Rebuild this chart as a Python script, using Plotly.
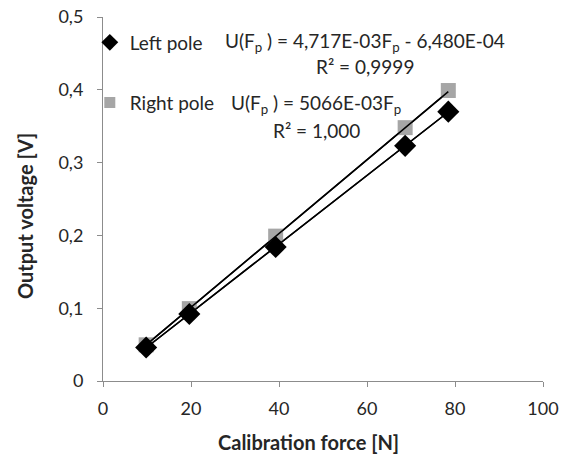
import plotly.graph_objects as go

force = [9.81, 19.62, 39.24, 68.67, 78.48]
left_pole = [0.046, 0.092, 0.184, 0.323, 0.370]
right_pole = [0.0497, 0.0994, 0.199, 0.348, 0.399]
fit_slope = {"left": 4.717e-3, "right": 5.066e-3}
fit_intercept = {"left": -6.48e-4, "right": 0.0}
x_ticks = [0, 20, 40, 60, 80, 100]
y_ticks = [0, 0.1, 0.2, 0.3, 0.4, 0.5]
y_tick_labels = ["0", "0,1", "0,2", "0,3", "0,4", "0,5"]

FONT = "Lato"
TXT = "#262626"
AX = "#8c8c8c"

fig = go.Figure()

xfit = [min(force), max(force)]
for key in ["left", "right"]:
    fig.add_trace(go.Scatter(
        x=xfit, y=[fit_slope[key] * v + fit_intercept[key] for v in xfit],
        mode="lines", line=dict(color="black", width=1.5),
        showlegend=False, hoverinfo="skip"))

fig.add_trace(go.Scatter(x=force, y=right_pole, mode="markers",
                         marker=dict(symbol="square", size=15, color="#a6a6a6"),
                         showlegend=False))
fig.add_trace(go.Scatter(x=force, y=left_pole, mode="markers",
                         marker=dict(symbol="diamond", size=17, color="black"),
                         showlegend=False))
# redraw trendlines on top of markers, as in the reference
for key in ["left", "right"]:
    fig.add_trace(go.Scatter(
        x=xfit, y=[fit_slope[key] * v + fit_intercept[key] for v in xfit],
        mode="lines", line=dict(color="black", width=1.5),
        showlegend=False, hoverinfo="skip"))

# legend entries
fig.add_trace(go.Scatter(x=[None], y=[None], mode="markers", name="Left pole",
                         marker=dict(symbol="diamond", size=13, color="black"),
                         legend="legend"))
fig.add_trace(go.Scatter(x=[None], y=[None], mode="markers", name="Right pole",
                         marker=dict(symbol="square", size=11, color="#a6a6a6"),
                         legend="legend2"))

legend_common = dict(xref="paper", yref="paper", xanchor="left", yanchor="middle",
                     bgcolor="rgba(0,0,0,0)", font=dict(family=FONT, size=19, color=TXT),
                     itemwidth=30, tracegroupgap=0)

fig.update_layout(
    width=568, height=456,
    margin=dict(l=103, r=25, t=17, b=75, autoexpand=False),
    plot_bgcolor="white", paper_bgcolor="white",
    font=dict(family=FONT, size=18, color=TXT),
    xaxis=dict(range=[0, 100], tickvals=x_ticks, ticks="outside", ticklen=5,
               tickcolor=AX, showline=True, linecolor=AX, linewidth=1,
               showgrid=False, zeroline=False, ticklabelstandoff=6,
               tickfont=dict(size=18, color=TXT)),
    yaxis=dict(range=[0, 0.5], tickvals=y_ticks, ticktext=y_tick_labels,
               ticks="outside", ticklen=5, tickcolor=AX, showline=True,
               linecolor=AX, linewidth=1, showgrid=False, zeroline=False,
               ticklabelstandoff=10, tickfont=dict(size=18, color=TXT)),
    legend=dict(x=-0.03, y=0.93, **legend_common),
    legend2=dict(x=-0.03, y=0.765, **legend_common),
)

ann = [
    dict(text="U(F<sub>p</sub> ) = 4,717E-03F<sub>p</sub> - 6,480E-04", x=365, y=42),
    dict(text="R² = 0,9999", x=365, y=67),
    dict(text="U(F<sub>p</sub> ) = 5066E-03F<sub>p</sub>", x=316, y=104),
    dict(text="R² = 1,000", x=316, y=130),
]
for a in ann:
    fig.add_annotation(text=a["text"], xref="paper", yref="paper",
                       x=(a["x"] - 103) / 440, y=(381 - a["y"]) / 364,
                       xanchor="center", yanchor="middle", showarrow=False,
                       font=dict(family=FONT, size=19, color=TXT))

fig.add_annotation(text="<b>Calibration force [N]</b>", xref="paper", yref="paper",
                   x=(308 - 103) / 440, y=(381 - 442) / 364, xanchor="center",
                   yanchor="middle", showarrow=False, font=dict(family=FONT, size=20, color=TXT))
fig.add_annotation(text="<b>Output voltage [V]</b>", xref="paper", yref="paper",
                   x=(25 - 103) / 440, y=(381 - 216) / 364, xanchor="center",
                   yanchor="middle", textangle=-90, showarrow=False,
                   font=dict(family=FONT, size=20, color=TXT))

fig.write_html("out.html")
